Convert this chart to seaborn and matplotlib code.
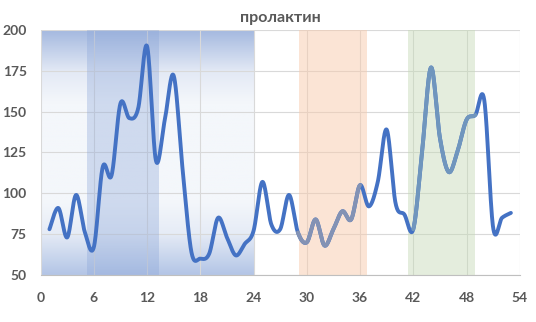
import numpy as np
import pandas as pd
import matplotlib
matplotlib.use("Agg")
import matplotlib.pyplot as plt
import seaborn as sns
from matplotlib.colors import LinearSegmentedColormap

# Data
days = list(range(1, 54))
prolactin = [78, 91, 73, 99, 76, 67, 116, 111, 155, 146, 152, 190, 120, 145, 172,
             115, 64, 60, 63, 85, 73, 62, 69, 77, 107, 81, 78, 99, 76, 70, 84, 68,
             78, 89, 84, 105, 92, 107, 139, 94, 87, 78, 126, 177, 134, 113, 126,
             145, 148, 157, 79, 85, 88]

# phases shown as shaded bands (start, end)
gradientBand = (0, 23.9)
blueBand = (5.2, 13.3)
orangeBand = (29.1, 36.75)
greenBand = (41.4, 49.0)

# day ranges of the recoloured line segments
graySegment = (29, 36)
steelSegment = (42, 49)

xTicks = list(range(0, 55, 6))
yTicks = list(range(50, 201, 25))
title = "пролактин"

mainColor = "#4472C4"
grayColor = "#8392B4"
steelColor = "#7096BD"
textColor = "#595959"


def smoothCurve(xs, ys, steps=30):
    # Excel-style smoothing: cubic Bezier with control points from neighbours
    xs = np.asarray(xs, float)
    ys = np.asarray(ys, float)
    outX, outY = [], []
    n = len(xs)
    for i in range(n - 1):
        p0 = np.array([xs[max(i - 1, 0)], ys[max(i - 1, 0)]])
        p1 = np.array([xs[i], ys[i]])
        p2 = np.array([xs[i + 1], ys[i + 1]])
        p3 = np.array([xs[min(i + 2, n - 1)], ys[min(i + 2, n - 1)]])
        c1 = p1 + (p2 - p0) / 6
        c2 = p2 - (p3 - p1) / 6
        t = np.linspace(0, 1, steps, endpoint=(i == n - 2))[:, None]
        pts = ((1 - t) ** 3) * p1 + 3 * ((1 - t) ** 2) * t * c1 + 3 * (1 - t) * t ** 2 * c2 + t ** 3 * p2
        outX.extend(pts[:, 0])
        outY.extend(pts[:, 1])
    return np.array(outX), np.array(outY)


sns.set_style("white")
plt.rcParams["font.family"] = ["Lato", "DejaVu Sans"]

fig = plt.figure(figsize=(5.36, 3.22), dpi=100)
ax = fig.add_axes([0.0757, 0.146, 0.894, 0.761])

# gradient band (vertical gradient, blue at top and bottom)
gradCmap = LinearSegmentedColormap.from_list(
    "band", [(0.0, "#B3C5E6"), (0.17, "#E6ECF6"), (0.3, "#F4F7FB"),
             (0.7, "#F4F7FB"), (0.83, "#E3E9F5"), (1.0, "#A3B8DF")])
grad = np.linspace(0, 1, 256)[:, None]
ax.imshow(grad, extent=[gradientBand[0], gradientBand[1], 50, 200], origin="lower",
          cmap=gradCmap, aspect="auto", zorder=0)

ax.set_xlim(0, 54)
ax.set_ylim(50, 200)
ax.set_xticks(xTicks)
ax.set_yticks(yTicks)
ax.grid(True, color="#D9D9D9", linewidth=0.8)
for line in ax.get_xgridlines() + ax.get_ygridlines():
    line.set_zorder(0.5)

ax.axvspan(*blueBand, color="#8AA5D8", alpha=0.35, lw=0, zorder=1)
ax.axvspan(*orangeBand, color="#F8CBAD", alpha=0.5, lw=0, zorder=1)
ax.axvspan(*greenBand, color="#C5D9B5", alpha=0.45, lw=0, zorder=1)

df = pd.DataFrame({"day": days, "value": prolactin})
sx, sy = smoothCurve(df["day"], df["value"])
curve = pd.DataFrame({"x": sx, "y": sy})
sns.lineplot(data=curve, x="x", y="y", color=mainColor, linewidth=2.8, ax=ax,
             sort=False, zorder=3)
for (a, b), col in [(graySegment, grayColor), (steelSegment, steelColor)]:
    part = curve[(curve["x"] >= a) & (curve["x"] <= b)]
    sns.lineplot(data=part, x="x", y="y", color=col, linewidth=2.8, ax=ax,
                 sort=False, zorder=4)

ax.set_xlabel("")
ax.set_ylabel("")
ax.set_title(title, color=textColor, fontsize=11.5, fontweight="bold", pad=6)
for s in ["top", "right", "left"]:
    ax.spines[s].set_visible(False)
ax.spines["bottom"].set_color("#BFBFBF")
ax.tick_params(axis="x", length=0, labelsize=10, labelcolor=textColor, pad=12)
ax.tick_params(axis="y", length=0, labelsize=10, labelcolor=textColor, pad=10)
for lab in ax.get_xticklabels() + ax.get_yticklabels():
    lab.set_fontweight("bold")

fig.savefig("out.png", dpi=100)
